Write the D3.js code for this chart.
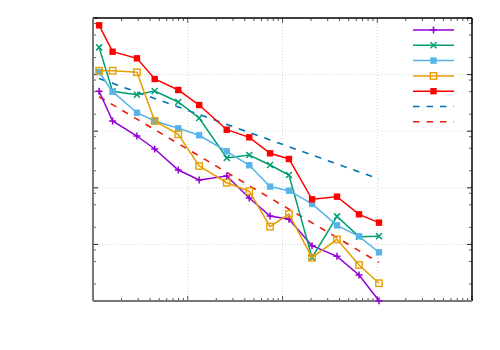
<!DOCTYPE html>
<html>
<head>
<meta charset="utf-8">
<script src="https://cdn.jsdelivr.net/npm/d3@7"></script>
<style>
  body { margin: 0; background: #fff; }
  svg { display: block; }
</style>
</head>
<body>
<svg width="500" height="350"></svg>
<script>
// x positions shared by all series (log axis)
var xs = [1.16, 1.61, 2.91, 4.48, 7.94, 13.2, 25.8, 44.6, 73.9, 117, 205, 376, 642, 1043];

var purple = [0.0507, 0.01514, 0.00822, 0.00485, 0.00206, 0.001374, 0.001615, 0.000661, 0.000318, 0.000278, 0.0000948, 0.0000616, 0.0000288, 0.0000101];
var green  = [0.303, 0.0507, 0.0442, 0.0513, 0.0328, 0.0171, 0.00336, 0.0038, 0.00253, 0.00168, 0.0000582, 0.000313, 0.000137, 0.000139];
var skyblue = [0.111, 0.0499, 0.0212, 0.01514, 0.01125, 0.00847, 0.00441, 0.0025, 0.00105, 0.000889, 0.000518, 0.000217, 0.000139, 0.0000725];
var orange = [0.117, 0.117, 0.110, 0.01514, 0.00881, 0.00243, 0.00123, 0.000871, 0.000206, 0.000344, 0.0000582, 0.000123, 0.0000433, 0.0000206];
var red    = [0.743, 0.254, 0.194, 0.0836, 0.0535, 0.029, 0.01063, 0.0078, 0.00407, 0.00323, 0.000626, 0.000697, 0.00034, 0.000242];

// reference power-law lines (end points)
var refX = [1.16, 1043];
var refBlue = [0.0853, 0.00143];
var refRed  = [0.0407, 0.0000479];

var margin = {top: 18, right: 28, bottom: 49, left: 93};
var width = 500 - margin.left - margin.right;
var height = 350 - margin.top - margin.bottom;

var svg = d3.select('svg');
var g = svg.append('g').attr('transform', `translate(${margin.left},${margin.top})`);

var x = d3.scaleLog().domain([1, 1e4]).range([0, width]);
var y = d3.scaleLog().domain([1e-5, 1]).range([height, 0]);

var xMajor = [1, 10, 100, 1000, 10000];
var yMajor = [1e-5, 1e-4, 1e-3, 1e-2, 1e-1, 1];
var xMinor = [], yMinor = [];
xMajor.slice(0, -1).forEach(function (d) {
    for (var k = 2; k <= 9; k++) xMinor.push(d * k);
});
yMajor.slice(0, -1).forEach(function (d) {
    [2, 5, 8].forEach(function (k) { yMinor.push(d * k); });
});

// grid
g.selectAll('.gx').data(xMajor.slice(1, -1)).enter().append('line')
    .attr('x1', d => x(d)).attr('x2', d => x(d))
    .attr('y1', 0).attr('y2', height)
    .attr('stroke', '#d8d8d8').attr('stroke-width', 1).attr('stroke-dasharray', '1,2');
g.selectAll('.gy').data(yMajor.slice(1, -1)).enter().append('line')
    .attr('x1', 0).attr('x2', width)
    .attr('y1', d => y(d)).attr('y2', d => y(d))
    .attr('stroke', '#d8d8d8').attr('stroke-width', 1).attr('stroke-dasharray', '1,2');

// ticks (inward, mirrored)
function ticksX(vals, len, col) {
    g.selectAll(null).data(vals).enter().append('line')
        .attr('x1', d => x(d)).attr('x2', d => x(d))
        .attr('y1', height).attr('y2', height - len)
        .attr('stroke', col).attr('stroke-width', 1);
    g.selectAll(null).data(vals).enter().append('line')
        .attr('x1', d => x(d)).attr('x2', d => x(d))
        .attr('y1', 0).attr('y2', len)
        .attr('stroke', col).attr('stroke-width', 1);
}
function ticksY(vals, len, col) {
    g.selectAll(null).data(vals).enter().append('line')
        .attr('x1', 0).attr('x2', len)
        .attr('y1', d => y(d)).attr('y2', d => y(d))
        .attr('stroke', col).attr('stroke-width', 1);
    g.selectAll(null).data(vals).enter().append('line')
        .attr('x1', width).attr('x2', width - len)
        .attr('y1', d => y(d)).attr('y2', d => y(d))
        .attr('stroke', col).attr('stroke-width', 1);
}
ticksX(xMajor, 5, '#555');
ticksX(xMinor, 3, '#555');
ticksY(yMajor, 5, '#222');
ticksY(yMinor, 3, '#666');

// border: left & bottom grey, top & right black
g.append('line').attr('x1', 0).attr('x2', width).attr('y1', 0).attr('y2', 0)
    .attr('stroke', '#000').attr('stroke-width', 1.5);
g.append('line').attr('x1', width).attr('x2', width).attr('y1', 0).attr('y2', height)
    .attr('stroke', '#000').attr('stroke-width', 1.5);
g.append('line').attr('x1', 0).attr('x2', 0).attr('y1', 0).attr('y2', height)
    .attr('stroke', '#777').attr('stroke-width', 2);
g.append('line').attr('x1', 0).attr('x2', width).attr('y1', height).attr('y2', height)
    .attr('stroke', '#777').attr('stroke-width', 2);

var line = d3.line().x(d => x(d[0])).y(d => y(d[1]));

var series = [
    {vals: purple, color: '#9400d3', marker: 'plus'},
    {vals: green, color: '#009e73', marker: 'cross'},
    {vals: skyblue, color: '#56b4e9', marker: 'fsquare'},
    {vals: orange, color: '#e69f00', marker: 'osquare'},
    {vals: red, color: '#ff0000', marker: 'fsquare'}
];
var refs = [
    {vals: refBlue, color: '#0072b2'},
    {vals: refRed, color: '#e51e10'}
];

function drawMarker(sel, type, color) {
    if (type === 'plus') {
        sel.append('path').attr('d', 'M-3.5,0H3.5M0,-3.5V3.5')
            .attr('stroke', color).attr('stroke-width', 1.5).attr('fill', 'none');
    } else if (type === 'cross') {
        sel.append('path').attr('d', 'M-3,-3L3,3M-3,3L3,-3')
            .attr('stroke', color).attr('stroke-width', 1.5).attr('fill', 'none');
    } else if (type === 'fsquare') {
        sel.append('rect').attr('x', -3.2).attr('y', -3.2).attr('width', 6.4).attr('height', 6.4)
            .attr('fill', color);
    } else if (type === 'osquare') {
        sel.append('rect').attr('x', -3.2).attr('y', -3.2).attr('width', 6.4).attr('height', 6.4)
            .attr('fill', 'none').attr('stroke', color).attr('stroke-width', 1.4);
    }
}

var plot = g.append('g');
refs.forEach(function (s) {
    plot.append('path')
        .datum(refX.map((v, i) => [v, s.vals[i]]))
        .attr('d', line)
        .attr('fill', 'none').attr('stroke', s.color)
        .attr('stroke-width', 1.6).attr('stroke-dasharray', '6.5,7');
});
series.forEach(function (s) {
    var pts = xs.map((v, i) => [v, s.vals[i]]);
    plot.append('path').datum(pts).attr('d', line)
        .attr('fill', 'none').attr('stroke', s.color).attr('stroke-width', 1.5);
    plot.selectAll(null).data(pts).enter().append('g')
        .attr('transform', d => `translate(${x(d[0])},${y(d[1])})`)
        .each(function () { drawMarker(d3.select(this), s.marker, s.color); });
});

// legend (keys without titles)
var legend = svg.append('g').attr('transform', 'translate(413,30)');
var keys = series.concat(refs);
keys.forEach(function (s, i) {
    var row = legend.append('g').attr('transform', `translate(0,${i * 15.3})`);
    row.append('line').attr('x1', 0).attr('x2', 41).attr('y1', 0).attr('y2', 0)
        .attr('stroke', s.color).attr('stroke-width', s.marker ? 1.5 : 1.6)
        .attr('stroke-dasharray', s.marker ? null : '6.5,7');
    if (s.marker) {
        var m = row.append('g').attr('transform', 'translate(20.5,0)');
        drawMarker(m, s.marker, s.color);
    }
});
</script>
</body>
</html>
